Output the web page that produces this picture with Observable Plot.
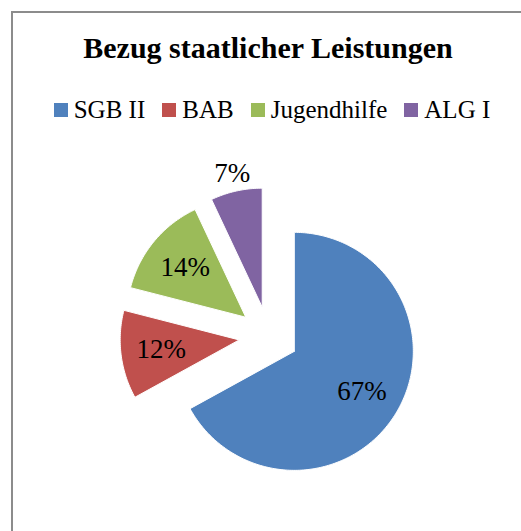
<!DOCTYPE html>
<html>
<head>
<meta charset="utf-8">
<script src="https://cdn.jsdelivr.net/npm/d3@7"></script>
<script src="https://cdn.jsdelivr.net/npm/@observablehq/plot@0.6"></script>
<style>
  html, body { margin: 0; padding: 0; background: #fff; width: 521px; height: 531px; overflow: hidden; }
  #frame { position: absolute; left: 11px; top: 11px; width: 560px; height: 560px;
           border-left: 2px solid #8c8c8c; border-top: 2px solid #8c8c8c; }
  #title { position: absolute; left: 0; width: 536px; top: 33px; text-align: center;
           font-family: "Liberation Serif", serif; font-weight: bold; font-size: 30px; line-height: 30px; color: #000; }
  #legend { position: absolute; left: 11px; width: 522px; top: 93px; }
  #legend [class$="-swatches-wrap"] { justify-content: center; margin-left: 0 !important; }
  #legend [class$="-swatch"] { margin-right: 17px !important; }
  #legend [class$="-swatch"]:last-child { margin-right: 0 !important; }
  #legend [class$="-swatch"] > svg { margin-right: 6px !important; }
  #chart { position: absolute; left: 0; top: 140px; }
</style>
</head>
<body>
<div id="frame"></div>
<div id="title">Bezug staatlicher Leistungen</div>
<div id="legend"></div>
<div id="chart"></div>
<script>
const categories = ["SGB II", "BAB", "Jugendhilfe", "ALG I"];
const shares = [67, 12, 14, 7];
const colors = ["#4F81BD", "#C0504D", "#9BBB59", "#8064A2"];

const data = categories.map((c, i) => ({name: c, value: shares[i]}));
const arcs = d3.pie().sort(null).value(d => d.value)(data);

const explode = 0.25; // in radius units
const slicePts = [];
const labels = [];
arcs.forEach(a => {
  const mid = (a.startAngle + a.endAngle) / 2;
  const ox = explode * Math.sin(mid), oy = explode * Math.cos(mid);
  slicePts.push({name: a.data.name, x: ox, y: oy});
  const n = Math.max(2, Math.ceil((a.endAngle - a.startAngle) / (Math.PI / 180)));
  for (let k = 0; k <= n; k++) {
    const t = a.startAngle + (a.endAngle - a.startAngle) * k / n;
    slicePts.push({name: a.data.name, x: ox + Math.sin(t), y: oy + Math.cos(t)});
  }
  slicePts.push({name: a.data.name, x: ox, y: oy});
  const share = a.data.value / d3.sum(shares);
  const lr = share < 0.1 ? 1.15 : 0.66;
  labels.push({text: a.data.value + "%", x: ox + lr * Math.sin(mid), y: oy + lr * Math.cos(mid)});
});

const R = 119, W = 521, H = 391, cx = 268.2, cy = 195.7;
const chart = Plot.plot({
  width: W, height: H,
  margin: 0,
  x: {domain: [-cx / R, (W - cx) / R], axis: null},
  y: {domain: [-(H - cy) / R, cy / R], axis: null},
  color: {domain: categories, range: colors},
  style: {fontFamily: "Liberation Serif", background: "transparent"},
  marks: [
    Plot.line(slicePts, {x: "x", y: "y", z: "name", fill: "name", stroke: "white", strokeWidth: 1, curve: "linear"}),
    Plot.text(labels, {x: "x", y: "y", text: "text", fontSize: 27, fill: "black", fontFamily: "Liberation Serif"})
  ]
});
document.getElementById("chart").appendChild(chart);

const legend = Plot.legend({
  color: {type: "ordinal", domain: categories, range: colors},
  legend: "swatches",
  swatchSize: 14,
  style: {fontFamily: "Liberation Serif", fontSize: "25px", color: "#000"}
});
document.getElementById("legend").appendChild(legend);
</script>
</body>
</html>
